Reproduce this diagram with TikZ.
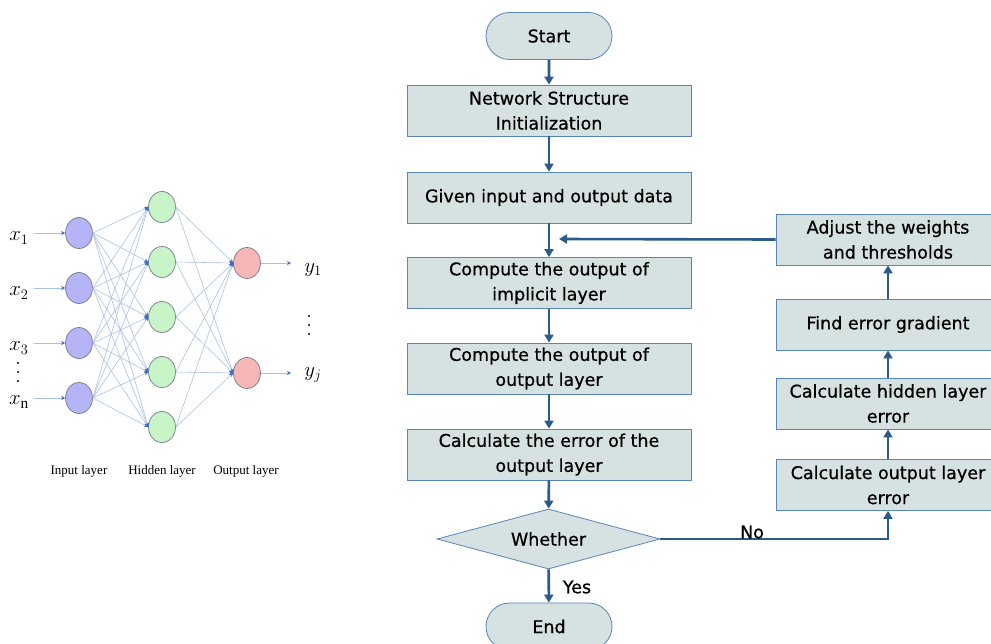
\documentclass[tikz,border=0pt]{standalone}
\usepackage{fontspec}
\setmainfont{Liberation Serif}
\newfontfamily\fcfont[FakeBold=0.6]{DejaVu Sans}
\usetikzlibrary{shapes.geometric,shapes.misc,arrows.meta}
\definecolor{boxfill}{RGB}{214,225,226}
\definecolor{boxdraw}{RGB}{88,134,186}
\definecolor{flowc}{RGB}{43,90,140}
\definecolor{edgec}{RGB}{170,193,230}
\definecolor{tipc}{RGB}{60,110,200}
\definecolor{infill}{RGB}{180,180,246}
\definecolor{hidfill}{RGB}{199,245,199}
\definecolor{outfill}{RGB}{247,182,182}
\definecolor{neurdraw}{RGB}{120,122,140}
\begin{document}
\begin{tikzpicture}[x=1pt,y=-1pt,
  fbox/.style={rectangle, draw=boxdraw, line width=0.8pt, fill=boxfill, minimum width=284, minimum height=51, align=center, inner sep=0pt, font=\fcfont\fontsize{17.5}{25}\selectfont},
  rbox/.style={fbox, minimum width=224},
  term/.style={rounded rectangle, draw=boxdraw, line width=0.8pt, fill=boxfill, minimum width=126, minimum height=47, inner sep=0pt, font=\fcfont\fontsize{17.5}{25}\selectfont},
  decis/.style={diamond, draw=boxdraw, line width=0.8pt, fill=boxfill, minimum width=223, minimum height=60, inner sep=0pt, font=\fcfont\fontsize{17.5}{25}\selectfont},
  flow/.style={draw=flowc, line width=2.6pt, -{Triangle[width=9pt,length=8pt]}},
  flowlbl/.style={font=\fcfont\fontsize{17.5}{20}\selectfont},
  neuron/.style={ellipse, draw=neurdraw, line width=0.7pt, minimum width=27, minimum height=31, inner sep=0pt},
  conn/.style={draw=edgec, line width=0.6pt, -{Stealth[length=4pt,width=4pt,color=tipc]}},
  nnlbl/.style={font=\fontsize{22}{26}\selectfont},
  dotm/.style={circle, fill=black, inner sep=0pt, minimum size=2.2pt},
  layerlbl/.style={font=\fontsize{13}{15}\selectfont}
]
\clip (0,0) rectangle (991,643);
\fill[white] (0,0) rectangle (991,643);

% ---------------- neural network ----------------
\foreach \i/\y in {1/233,2/288,3/343,4/398}
  \node[neuron, fill=infill] (i\i) at (79,\y) {};
\foreach \j/\y in {1/207,2/262,3/317,4/372,5/427}
  \node[neuron, fill=hidfill] (h\j) at (162,\y) {};
\foreach \k/\y in {1/263,2/373}
  \node[neuron, fill=outfill] (o\k) at (247,\y) {};

\foreach \i in {1,...,4}
  \foreach \j in {1,...,5}
    \draw[conn] (i\i.east) -- (h\j.west);
\foreach \j in {1,...,5}
  \foreach \k in {1,2}
    \draw[conn] (h\j.east) -- (o\k.west);

\node[nnlbl] (lx1) at (19,238) {$x_1$};
\node[nnlbl] (lx2) at (19,293) {$x_2$};
\node[nnlbl] (lx3) at (19,348) {$x_3$};
\node[nnlbl] (lxn) at (19,402) {$x_{\mathrm{n}}$};
\foreach \d/\y in {1/363,2/372,3/381}
  \node[dotm] (ld\d) at (18,\y) {};
\draw[conn] (34,233) coordinate (s1) -- (i1.west);
\draw[conn] (34,288) coordinate (s2) -- (i2.west);
\draw[conn] (34,343) coordinate (s3) -- (i3.west);
\draw[conn] (34,398) coordinate (s4) -- (i4.west);

\coordinate (e1) at (291,263);
\coordinate (e2) at (291,373);
\draw[conn] (o1.east) -- (e1);
\draw[conn] (o2.east) -- (e2);
\node[nnlbl] (ly1) at (313,270) {$y_1$};
\foreach \d/\y in {1/316,2/325,3/334}
  \node[dotm] (rd\d) at (309,\y) {};
\node[nnlbl] (lyj) at (313,375) {$y_j$};

\node[layerlbl] (l1) at (79,471) {Input layer};
\node[layerlbl] (l2) at (162,471) {Hidden layer};
\node[layerlbl] (l3) at (246,471) {Output layer};

% ---------------- flowchart ----------------
\node[term] (start) at (549,36) {Start};
\node[fbox] (net) at (549,110.5) {Network Structure\\Initialization};
\node[fbox] (given) at (549,197.5) {Given input and output data};
\node[fbox] (cimp) at (549,283) {Compute the output of\\implicit layer};
\node[fbox] (cout) at (549,368.5) {Compute the output of\\output layer};
\node[fbox] (cerr) at (549,454.5) {Calculate the error of the\\output layer};
\node[decis] (wh) at (548.5,539) {\makebox[0pt]{Whether}};
\node[term] (endn) at (549,626.5) {End};

\node[rbox] (adj) at (888,239.5) {Adjust the weights\\and thresholds};
\node[rbox] (grad) at (888,324.5) {Find error gradient};
\node[rbox] (hid) at (888,403.5) {Calculate hidden layer\\error};
\node[rbox] (oerr) at (888,485) {Calculate output layer\\error};

\draw[flow] (start) -- (net);
\draw[flow] (net) -- (given);
\draw[flow] (given) -- (cimp);
\draw[flow] (cimp) -- (cout);
\draw[flow] (cout) -- (cerr);
\draw[flow] (cerr) -- (wh);
\draw[flow] (wh) -- (endn);
\node[flowlbl] (yes) at (577,587) {Yes};

\coordinate (fb) at (559,239);
\draw[flow] (adj.west) -- (fb);
\draw[flow] (oerr) -- (hid);
\draw[flow] (hid) -- (grad);
\draw[flow] (grad) -- (adj);
\draw[flow] (wh.east) -| (oerr.south);
\node[flowlbl] (no) at (752,532) {No};
\end{tikzpicture}
\end{document}
